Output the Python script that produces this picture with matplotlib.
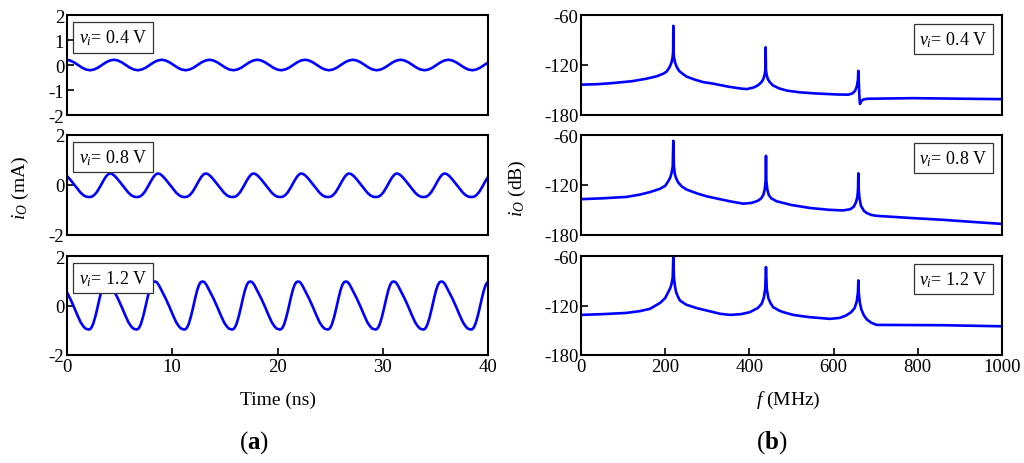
import numpy as np
import matplotlib
matplotlib.use("Agg")
from matplotlib import pyplot as plt

plt.rcParams['font.family'] = ['Liberation Serif', 'DejaVu Serif']
plt.rcParams['mathtext.fontset'] = 'custom'
plt.rcParams['mathtext.rm'] = 'Liberation Serif'
plt.rcParams['mathtext.it'] = 'Liberation Serif:italic'
plt.rcParams['mathtext.bf'] = 'Liberation Serif:bold'
plt.rcParams['axes.unicode_minus'] = False

# input amplitudes (labels)
vi_labels = ['0.4', '0.8', '1.2']

# --- time domain: one period, starting at a trough ---
period_ns = 4.54
first_trough_ns = [2.19, 2.19, 2.09]
cycle_t = [
    [0, 0.38, 0.76, 1.13, 1.51, 1.89, 2.27, 2.64, 3.02, 3.40, 3.78, 4.15],
    [0, 0.20, 0.40, 0.65, 0.95, 1.25, 1.50, 1.72, 1.90, 2.10, 2.35, 2.65, 2.95, 3.30,
     3.65, 3.95, 4.20, 4.40],
    [0, 0.12, 0.25, 0.40, 0.60, 0.80, 1.00, 1.20, 1.38, 1.55, 1.74, 1.90, 2.10, 2.40,
     2.75, 3.10, 3.45, 3.75, 4.00, 4.20, 4.40],
]
cycle_i = [
    [-0.21, -0.18, -0.105, 0, 0.105, 0.18, 0.21, 0.18, 0.105, 0, -0.105, -0.18],
    [-0.48, -0.46, -0.40, -0.28, -0.07, 0.16, 0.33, 0.43, 0.46, 0.44, 0.36, 0.22, 0.06,
     -0.13, -0.31, -0.42, -0.47, -0.48],
    [-0.97, -0.95, -0.88, -0.74, -0.45, -0.10, 0.28, 0.62, 0.84, 0.95, 0.97, 0.94, 0.82,
     0.57, 0.28, -0.05, -0.40, -0.68, -0.84, -0.93, -0.96],
]

# --- spectra (MHz, dB) ---
spec_f = [
    [0, 40, 77, 120, 156, 180, 196, 203, 208, 211, 215, 217.5, 218.8, 219.3, 219.8, 221,
     223.5, 227, 233, 240, 251, 270, 290, 314, 350, 380, 394, 410, 420, 428, 433, 436,
     437.8, 438.6, 439.4, 441, 444, 449, 456, 470, 490, 520, 560, 610, 635, 645, 651, 655,
     657.8, 658.7, 659.8, 661.5, 662.7, 665, 670, 680, 789, 1000],
    [0, 50, 108, 140, 164, 187.6, 200, 207.4, 212, 215.4, 217.8, 219.3, 220.8, 223, 226,
     231, 240, 251, 275, 298.6, 330, 354, 385, 405, 420, 428, 433, 436.5, 438.5, 439.4,
     440.3, 442.5, 446, 452, 465, 500, 544, 590, 623, 640, 648, 653, 656.5, 658, 658.8,
     659.6, 661.5, 665, 672, 679, 690, 702, 780, 860, 930, 1000],
    [0, 50, 108, 140, 164, 188, 200, 207, 212, 215.5, 217.8, 219.3, 220.8, 223, 226, 230,
     235, 250, 275, 310, 330, 354, 380, 401, 420, 429, 434, 437.5, 439.4, 441.3, 445, 450,
     456.5, 470, 480, 504, 540, 591, 615, 630, 642, 650, 655, 657.8, 658.8, 659.8, 662.5,
     666, 672, 679, 690, 702, 860, 1000],
]
spec_db = [
    [-143.6, -143, -141.6, -139.5, -136.4, -133.5, -130.3, -128, -124.5, -122, -117,
     -111, -104, -73, -104, -111, -117, -122, -127, -130, -134, -137.5, -140.5, -142.4,
     -146, -148.3, -148.9, -147, -144.5, -141, -137, -132, -126, -98.8, -126, -132, -137,
     -141, -144.5, -148, -150.8, -152.8, -154.2, -155.4, -155.6, -154, -151, -146, -138,
     -127, -140, -160, -166.7, -164, -161.5, -160.5, -159.8, -161],
    [-137, -136, -134.3, -131.5, -128.5, -124.6, -121, -115.4, -111, -105, -98, -67, -98,
     -107, -112, -117, -122, -125.5, -130, -133.6, -137, -139.6, -142.4, -141.5, -139,
     -136, -132, -125, -115, -85, -115, -125, -132, -136, -139.6, -144, -147.6, -149.8,
     -150.5, -149, -146, -141, -134, -125, -106, -125, -136, -145, -151, -153.7, -156,
     -157, -159.5, -161.8, -164.3, -166.7],
    [-131.4, -130.5, -129, -126.8, -124, -116.8, -111, -104, -99, -93, -86, -60.5, -86,
     -96, -104, -109, -114, -119, -123.2, -127.5, -130, -131.4, -130.5, -128.1, -123,
     -118, -111, -100, -73.4, -100, -111, -117, -122, -126, -128, -131.4, -134, -136.2,
     -135, -132, -128, -123, -115, -104, -89.6, -104, -117, -125, -132, -137, -141,
     -143.5, -143.9, -145.2],
]

W, H = 1024, 464
fig = plt.figure(figsize=(W / 100, H / 100), dpi=100)

rows = [(16, 116), (136, 236), (257, 356)]
col_x = [67, 581]
col_w = 421
blue = '#0000ff'
box = dict(boxstyle='square,pad=0.3', fc='white', ec='#333333', lw=0.9)
box_y = [[0.775, 0.78, 0.78], [0.76, 0.77, 0.77]]


def make_ax(x0, top, bot):
    ax = fig.add_axes([x0 / W, 1 - bot / H, col_w / W, (bot - top) / H])
    for s in ax.spines.values():
        s.set_linewidth(1.5)
    ax.tick_params(direction='in', length=5, width=1.2, labelsize=13.5,
                   top=False, right=False, pad=2)
    return ax


for k in range(3):
    top, bot = rows[k]

    # time domain
    ax = make_ax(col_x[0], top, bot)
    t_all, i_all = [], []
    for n in range(-1, 10):
        t0 = first_trough_ns[k] + n * period_ns
        t_all += [t0 + c for c in cycle_t[k]]
        i_all += cycle_i[k]
    ax.plot(t_all, i_all, color=blue, lw=1.9)
    ax.set_xlim(0, 40)
    ax.set_ylim(-2, 2)
    ax.set_yticks([2, 1, 0, -1, -2] if k == 0 else [2, 0, -2])
    ax.set_xticks([0, 10, 20, 30, 40])
    if k < 2:
        ax.tick_params(bottom=False, labelbottom=False)
    ax.text(0.028, box_y[0][k], r'$v_i$= %s V' % vi_labels[k], transform=ax.transAxes,
            fontsize=13, ha='left', va='center', bbox=box)

    # spectrum
    ax = make_ax(col_x[1], top, bot)
    ax.plot(spec_f[k], spec_db[k], color=blue, lw=1.9)
    ax.set_xlim(0, 1000)
    ax.set_ylim(-180, -60)
    ax.set_yticks([-60, -120, -180])
    ax.set_xticks([0, 200, 400, 600, 800, 1000])
    if k < 2:
        ax.tick_params(bottom=False, labelbottom=False)
    ax.text(0.966, box_y[1][k], r'$v_i$= %s V' % vi_labels[k], transform=ax.transAxes,
            fontsize=13, ha='right', va='center', bbox=box)

fig.text(20 / W, 1 - 188 / H, r'$i_O$ (mA)', rotation=90, ha='center', va='center', fontsize=14)
fig.text(517 / W, 1 - 188 / H, r'$i_O$ (dB)', rotation=90, ha='center', va='center', fontsize=14)
fig.text(278 / W, 1 - 400 / H, 'Time (ns)', ha='center', va='center', fontsize=14)
fig.text(788 / W, 1 - 400 / H, r'$f$ (MHz)', ha='center', va='center', fontsize=14)
fig.text(254 / W, 1 - 443 / H, r'($\mathbf{a}$)', ha='center', va='center', fontsize=18)
fig.text(772 / W, 1 - 443 / H, r'($\mathbf{b}$)', ha='center', va='center', fontsize=18)

fig.savefig('out.png', dpi=100)
